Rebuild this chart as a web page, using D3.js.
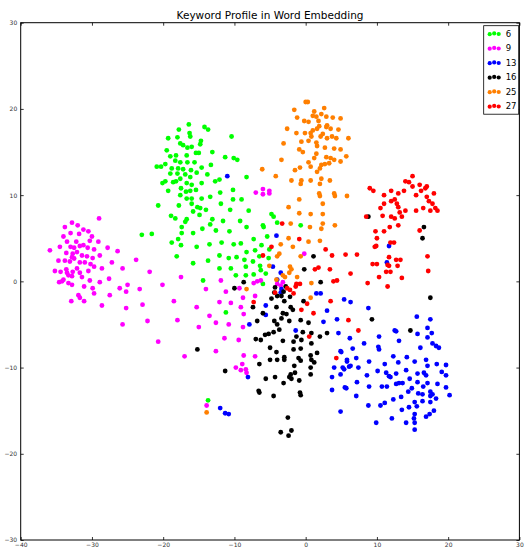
<!DOCTYPE html>
<html>
<head>
<meta charset="utf-8">
<script src="https://cdnjs.cloudflare.com/ajax/libs/d3/7.8.5/d3.min.js"></script>
<style>
  html, body { margin: 0; padding: 0; background: #fff; }
  svg { display: block; font-family: "DejaVu Sans", sans-serif; }
</style>
</head>
<body>
<div id="chart"></div>
<script>
// chart text + axis ranges
const TITLE = "Keyword Profile in Word Embedding";
const X_DOMAIN = [-40, 30];
const Y_DOMAIN = [-30, 30];
const X_TICKS = [-40, -30, -20, -10, 0, 10, 20, 30];
const Y_TICKS = [-30, -20, -10, 0, 10, 20, 30];

// cluster ids (legend labels) and colours, same order as drawn
const LABELS = ["6", "9", "13", "16", "25", "27"];
const COLORS = ["#00ff00", "#ff00ff", "#0000ff", "#000000", "#ff7f00", "#ff0000"];

// points, [x, y]
const pts6 = [
  [-13.7,17.6],[-16.4,18.2],[-14.2,17.9],[-17.8,17.6],
  [-19.3,16.6],[-18.0,16.7],[-16.3,17.2],[-16.2,16.8],[-10.4,16.8],[-14.7,16.3],[-14.8,15.9],[-17.6,16.0],
  [-17.2,15.8],[-16.6,15.5],[-16.0,15.6],[-19.5,15.2],[-15.4,14.9],[-15.0,14.9],[-13.1,15.0],[-19.0,14.5],
  [-18.2,14.6],[-16.7,14.6],[-11.3,14.4],[-10.1,14.3],[-9.6,14.1],[-18.3,14.0],[-17.6,13.8],[-16.6,13.8],
  [-15.6,13.8],[-14.6,13.2],[-13.3,13.5],[-20.9,13.3],[-20.3,13.3],[-19.7,13.6],[-18.8,13.1],[-17.9,13.1],
  [-17.2,13.0],[-16.1,12.9],[-19.0,12.5],[-18.0,12.5],[-16.9,12.4],[-15.3,12.6],[-13.8,12.4],[-8.3,12.1],
  [-17.6,11.9],[-16.2,12.1],[-12.1,11.8],[-12.7,11.6],[-20.1,11.4],[-19.7,11.6],[-18.6,11.5],[-18.2,11.6],
  [-16.7,11.4],[-16.0,11.2],[-14.6,11.4],[-17.5,10.8],[-16.8,10.4],[-16.2,10.5],[-15.4,10.6],[-19.3,10.5],
  [-12.0,10.3],[-10.2,10.6],[-17.6,10.0],[-16.7,9.6],[-16.0,9.6],[-14.6,9.6],[-13.4,9.8],[-10.2,9.5],
  [-9.0,9.5],[-20.7,8.8],[-17.8,8.8],[-16.0,9.0],[-11.9,9.0],[-15.2,8.6],[-14.8,8.5],[-14.0,8.3],
  [-15.8,8.1],[-10.6,8.3],[-8.0,8.2],[-18.9,7.6],[-18.3,7.3],[-14.9,7.7],[-16.7,7.2],[-16.9,6.9],
  [-13.1,7.2],[-11.6,7.0],[-9.2,7.0],[-17.4,6.3],[-13.4,6.6],[-23.0,5.4],[-21.6,5.5],[-14.5,6.1],
  [-12.6,5.9],[-10.7,5.8],[-17.4,5.6],[-15.8,5.6],[-17.9,4.9],[-18.8,4.5],[-17.5,4.2],[-15.3,4.0],
  [-13.5,4.3],[-11.8,4.5],[-10.1,4.3],[-9.1,4.4],[-18.1,2.9],[-15.8,2.1],[-13.7,2.4],[-12.1,3.0],
  [-10.8,2.7],[-9.7,2.8],[-8.6,2.5],[-12.1,1.5],[-10.5,1.5],[-9.8,0.7],[-8.4,1.7],[-14.4,0.1],
  [-8.4,0.7],[-11.2,-3.6],[-13.7,-13.8],
  [-4.8,7.8],[-4.5,7.5],[-8.3,6.3],[-6.0,6.5],[-5.9,6.3],[-4.0,6.8],[-0.7,6.5],[-5.4,5.2],
  [-7.3,4.9],[-6.2,4.2],[-7.1,3.6],[-8.3,3.4],[-5.1,3.7],[-6.5,2.9],[-5.2,2.7],
  [-7.4,2.3],[-6.4,1.8],[-7.3,0.8],[-6.3,1.3],[-6.0,-0.3],[-5.6,0.9]
];

const pts9 = [
  [-33.8,6.3],[-32.8,6.8],[-32.0,6.5],[-31.2,6.0],[-30.5,5.8],[-29.0,7.3],[-30.0,5.2],[-31.8,5.5],
  [-33.0,5.6],[-34.0,5.2],
  [-35.9,3.6],[-34.5,4.0],[-33.5,4.6],[-32.2,4.6],[-30.3,4.7],[-29.1,4.6],[-33.0,4.0],[-32.5,3.9],
  [-31.7,4.1],[-31.2,4.2],[-30.6,3.9],[-29.7,3.7],[-27.8,3.9],[-26.4,3.5],[-33.6,3.3],[-32.1,3.4],
  [-32.7,3.2],[-31.4,3.0],[-30.7,2.9],[-29.9,2.7],[-28.9,3.0],[-32.8,2.8],[-32.5,2.65],[-33.1,2.3],
  [-34.7,2.4],[-33.8,2.4],[-31.7,2.2],[-31.0,2.2],[-30.2,2.0],[-27.2,2.2],[-23.8,2.5],[-35.2,1.2],
  [-34.4,1.1],[-33.6,1.4],[-33.5,1.0],[-32.7,1.1],[-32.1,1.5],[-31.7,1.0],[-30.5,1.2],[-29.7,1.7],
  [-28.6,1.5],[-25.7,1.5],[-33.3,0.7],[-32.8,0.6],[-31.4,0.5],[-34.2,0.0],[-34.6,-0.1],[-34.0,0.2],
  [-33.3,-0.2],[-32.8,-0.4],[-30.3,0.1],[-28.9,-0.1],[-27.6,0.3],[-31.1,-0.6],[-29.9,-0.8],[-26.1,-0.8],
  [-25.0,-0.4],[-25.2,-1.2],[-23.3,-0.9],[-29.7,-1.4],[-31.9,-1.6],[-31.7,-1.9],[-27.5,-1.6],[-32.9,-2.3],
  [-31.1,-2.3],[-28.6,-2.8],[-25.2,-3.1],[-25.7,-5.0],
  [-21.9,1.1],[-17.5,0.5],[-20.1,-0.4],[-14.0,-0.9],[-11.9,0.1],[-9.3,-0.8],[-11.2,-1.2],[-22.9,-2.7],
  [-18.5,-2.3],[-15.3,-3.0],[-12.1,-2.4],[-10.5,-2.5],[-8.8,-1.9],[-9.1,-3.0],[-8.7,-3.8],[-22.2,-4.6],
  [-18.0,-4.5],[-13.5,-4.0],[-12.6,-4.8],[-10.8,-5.0],[-8.8,-5.3],[-15.0,-5.3],[-11.4,-6.6],[-9.4,-6.8],
  [-20.7,-7.0],[-12.6,-8.1],[-17.0,-8.7],[-8.7,-8.6],[-8.9,-9.6],[-9.8,-10.0],[-9.1,-10.3],[-8.4,-10.2],
  [-8.3,-10.6],[-13.9,-14.4],[-7.0,10.3],[-6.0,10.7],[-5.1,10.5],[-6.0,10.1],[-5.1,10.2],[-0.2,3.2],
  [-7.3,-0.2],[-6.8,0.0],[-6.3,0.1],[-4.0,-0.3],[-3.5,-0.5],[-3.2,-0.1],[-7.1,-8.7],[-7.1,-1.7]
];

const pts13 = [
  [-11.0,12.2],[-4.1,5.3],[-7.9,-5.0],[-8.1,-11.1],[-12.0,-14.7],[-11.3,-15.3],[-10.8,-15.4],
  [-4.6,1.7],[-3.5,1.0],[-4.0,0.2],[-3.4,-0.9],[-3.5,-1.3],[-5.6,-2.8],[-5.6,-3.9],[1.5,-1.4],
  [2.1,-1.4],[3.0,-3.4],[5.4,-2.1],[4.4,-4.4],[-1.4,-5.7],[2.5,-4.7],[4.6,-6.0],[4.9,-8.1],
  [5.8,-9.1],[5.2,-10.0],[6.1,-9.9],[4.0,-10.0],[4.9,-10.8],[3.7,-11.1],[3.7,-12.6],[5.7,-12.4],
  [4.9,-15.1],
  [11.7,4.1],[11.4,2.2],[6.3,-2.4],[8.8,-3.1],[15.6,-4.1],[17.5,-4.4],[12.5,-5.7],[12.7,-5.8],
  [17.1,-5.4],[17.7,-6.0],[15.7,-6.1],[6.2,-6.6],[10.3,-6.4],[17.1,-6.5],[13.1,-6.9],[8.2,-7.2],
  [17.8,-7.2],[18.3,-7.5],[18.7,-7.7],[10.2,-7.6],[10.3,-7.9],[6.6,-7.8],[16.1,-7.7],[5.0,-8.2],
  [12.3,-8.7],[14.2,-8.8],[7.1,-8.9],[8.9,-9.3],[5.8,-9.3],[11.1,-9.6],[13.0,-9.4],[15.3,-9.3],
  [16.9,-9.1],[5.4,-10.2],[6.3,-9.8],[7.4,-10.0],[17.1,-9.8],[18.4,-9.6],[19.7,-9.7],[10.1,-10.4],
  [11.3,-10.6],[11.7,-11.0],[11.9,-11.1],[14.1,-10.3],[15.7,-10.7],[16.6,-10.6],[16.9,-10.9],[19.1,-10.5],
  [19.7,-10.9],[8.6,-10.9],[12.7,-10.7],[7.2,-11.7],[14.6,-11.3],[12.7,-11.9],[13.1,-11.8],[13.6,-11.8],
  [15.7,-11.7],[17.1,-11.8],[18.5,-11.9],[5.5,-12.3],[8.9,-12.2],[10.7,-12.2],[11.4,-12.2],[14.9,-12.4],
  [16.5,-12.2],[19.7,-12.3],
  [7.1,-13.3],[14.4,-12.8],[15.8,-13.0],[16.4,-13.1],[17.5,-12.8],[17.8,-13.1],[17.5,-13.3],[20.2,-13.2],
  [18.3,-13.6],[16.4,-13.9],[17.5,-14.0],[12.3,-13.7],[13.4,-13.4],[15.3,-14.0],[11.1,-14.1],[10.5,-14.4],
  [8.8,-14.4],[14.5,-14.6],[15.6,-14.5],[13.5,-14.9],[18.0,-15.0],[17.4,-15.4],[16.9,-15.7],[15.3,-15.4],
  [15.2,-15.9],[15.3,-16.4],[12.1,-15.9],[14.1,-16.4],[9.9,-16.4],[15.3,-17.2]
];

const pts16 = [
  [-8.7,-0.1],[-10.0,-0.8],[-15.2,-7.9],[-11.3,-10.4],[1.1,2.9],
  [-4.3,-0.7],[-4.4,-1.3],[-2.8,-0.6],[-0.2,1.4],[2.1,-0.1],[-3.4,-1.7],[-4.0,-1.7],[-2.2,-1.8],
  [-3.0,-2.3],[-0.3,-2.3],[-7.4,-3.0],[-2.1,-3.0],[-1.8,-3.3],[-4.1,-3.0],[-6.0,-3.7],[-3.2,-3.7],
  [-3.4,-4.3],[-2.7,-3.8],[-6.8,-4.6],[-4.4,-4.6],[-2.3,-4.6],[-0.7,-4.5],[0.4,-4.8],[-4.0,-5.0],
  [-3.7,-5.6],[-5.2,-6.1],[-4.5,-5.9],[-5.7,-6.2],[-0.4,-5.9],[0.8,-6.0],[2.0,-6.4],[3.0,-6.0],
  [-7.0,-6.7],[-6.3,-6.8],[-3.2,-6.9],[-1.7,-7.0],[-0.6,-6.8],[0.8,-7.2],[-5.0,-7.7],[-1.7,-7.9],
  [-0.7,-7.8],[1.6,-8.3],[0.7,-8.6],[-4.1,-8.2],[-3.0,-8.8],[-3.0,-9.1],[-5.0,-9.1],[-4.0,-9.1],
  [-1.0,-8.9],[-0.7,-9.2],[0.8,-9.1],[1.2,-9.4],[-6.5,-9.6],[-1.6,-9.8],[0.7,-10.0],[-2.1,-10.8],
  [-2.3,-11.1],[-1.5,-10.6],[-5.6,-11.3],[-4.3,-11.1],[0.7,-10.8],[-0.9,-11.5],[-3.1,-11.8],[-6.6,-12.7],
  [-6.5,-12.9],[-4.5,-13.3],[-0.8,-12.9],[-0.7,-13.2],[-2.0,-11.3],[-1.3,-6.4],[-3.1,-1.2],[-4.8,-2.0],
  [-2.5,-15.8],[-3.5,-17.5],[-2.0,-17.3],[-2.4,-17.9],
  [17.5,-1.9],[9.3,-4.4],[14.7,-5.7],[16.4,5.0],[8.8,7.5],[16.6,6.3]
];

const pts25 = [
  [0.0,20.8],[0.3,20.8],[-1.6,19.9],[2.6,20.1],
  [1.2,19.7],[1.0,19.2],[-1.2,19.0],[1.5,19.1],[2.2,19.4],[2.9,19.1],[3.8,19.0],[4.9,18.9],
  [-0.2,18.6],[0.4,18.5],[1.8,18.6],[1.9,18.0],[3.0,18.1],[2.9,17.9],[3.5,17.7],[-2.6,17.7],
  [1.0,17.5],[1.6,17.7],[4.6,17.6],[-1.3,17.2],[-0.1,17.2],[0.7,17.2],[0.8,16.8],[2.4,17.1],
  [2.1,16.8],[3.0,16.6],[4.3,16.6],[6.0,16.6],[3.7,16.8],[-0.6,16.2],[0.4,16.3],[1.5,16.1],
  [-3.1,16.0],[1.6,15.7],[2.7,15.5],[4.0,15.4],[4.9,15.3],[-0.9,15.3],[-0.4,15.0],[1.5,14.8],
  [2.9,14.4],[3.5,14.3],[4.0,14.1],[4.9,13.9],[5.7,14.5],[-3.4,14.1],[1.2,14.3],[0.4,13.8],
  [2.2,13.5],[3.3,13.7],[2.7,13.6],[-0.8,13.2],[2.0,13.1],[-1.5,12.9],[1.6,12.7],[0.7,13.3],
  [-6.1,13.0],[-4.2,12.2],[-2.0,11.7],[-0.6,11.7],[0.7,11.7],[2.2,11.9],[3.4,11.7],[-0.7,11.3],
  [2.0,11.3],[1.9,10.2],[2.0,9.9],[4.0,10.2],[4.1,9.9],[5.8,9.9],[-0.9,9.5],[2.4,9.0],
  [-2.4,8.6],[-0.9,7.9],[0.7,7.8],[2.4,7.8],[-2.1,6.7],[0.6,6.3],[2.4,6.7],[2.2,6.1],
  [4.1,6.5],[-2.4,5.0],[-3.5,4.3],[0.4,4.6],[2.0,4.7],[-1.8,4.0],[-0.7,2.9],[-4.0,2.9],
  [-3.7,3.2],
  [-5.1,1.8],[-2.2,1.7],[-2.0,1.4],[-3.2,0.7],[-2.9,0.5],[-1.2,0.5],[-4.1,0.2],[0.8,-0.2],
  [-2.3,1.0],[0.7,-1.9],[-8.3,-0.9],[-13.9,-15.2]
];

const pts27 = [
  [-3.3,6.7],[-0.9,4.9],[-4.8,4.0],[-6.0,3.0],[2.8,3.7],[3.7,3.0],[5.6,3.1],
  [1.3,1.4],[1.8,1.6],[3.4,1.4],[-1.3,-0.3],[-0.8,-0.3],[-1.4,-0.6],[-2.6,-0.8],[-2.2,-1.0],
  [-4.3,-1.3],[-1.7,-1.4],[-7.3,-2.4],[0.2,-2.6],[-0.6,-3.3],[1.1,-3.7],[3.5,-2.3],[3.9,0.0],
  [4.4,0.1],[0.5,-6.4],[4.3,-8.9],[6.3,0.9],
  [9.7,4.0],[9.9,4.1],[11.9,4.5],[12.4,4.5],[7.2,3.1],[11.7,2.8],[12.7,2.5],[13.3,2.5],
  [17.1,2.9],[9.4,2.0],[10.0,2.0],[11.5,1.9],[11.7,1.8],[12.9,1.8],[11.3,1.1],[11.9,1.1],
  [17.2,1.2],[10.3,0.5],[13.5,0.4],[8.7,-0.2],[11.5,-0.6],[6.0,-4.5],[7.4,-5.7],
  [9.0,10.8],[9.5,10.5],[10.5,8.5],[11.0,9.0],[11.0,10.0],[12.0,10.5],[12.5,9.5],[12.8,9.0],
  [13.0,10.2],[13.2,8.0],[13.5,7.5],[13.8,10.5],[14.0,11.6],[14.5,11.5],[15.0,12.2],[15.0,11.0],
  [15.5,10.0],[16.0,11.2],[16.2,10.5],[16.8,10.8],[17.0,11.0],[17.0,9.8],[17.3,9.3],[17.8,9.0],
  [17.5,8.2],[18.0,10.2],[18.2,8.5],[16.5,8.5],[15.5,8.2],[12.0,7.5],[11.8,6.3],[13.0,6.5],
  [12.5,7.3],[14.0,8.2],[16.0,5.9],[18.5,8.2],[8.5,7.5],[10.0,5.0],[11.0,5.8],[13.0,8.6],
  [12.0,9.3],[10.8,7.6],[9.8,5.8]
];

const SERIES = [pts6, pts9, pts13, pts16, pts25, pts27];

// layout
const W = 526, H = 548;
const MARGIN = { top: 22.7, right: 6.6, bottom: 8, left: 20.7 };
const PW = W - MARGIN.left - MARGIN.right;
const PH = H - MARGIN.top - MARGIN.bottom;

const svg = d3.select("#chart").append("svg")
  .attr("width", W)
  .attr("height", H);

const x = d3.scaleLinear().domain(X_DOMAIN).range([0, PW]);
const y = d3.scaleLinear().domain(Y_DOMAIN).range([PH, 0]);

// title
svg.append("text")
  .attr("x", MARGIN.left + PW / 2)
  .attr("y", 19)
  .attr("text-anchor", "middle")
  .attr("font-size", "10.5px")
  .attr("fill", "#000")
  .text(TITLE);

const g = svg.append("g")
  .attr("transform", `translate(${MARGIN.left},${MARGIN.top})`);

// points
SERIES.forEach((pts, i) => {
  g.append("g")
    .selectAll("circle")
    .data(pts)
    .enter()
    .append("circle")
    .attr("cx", d => x(d[0]))
    .attr("cy", d => y(d[1]))
    .attr("r", 2.4)
    .attr("fill", COLORS[i]);
});

// axes, ticks pointing inward on all four sides
const fmt = d3.format("d");
function styleAxis(sel) {
  sel.select(".domain").remove();
  sel.selectAll("line").attr("stroke", "#000").attr("stroke-width", 0.8);
  sel.selectAll("text").attr("font-size", "6px").attr("fill", "#333")
    .attr("font-family", "DejaVu Sans, sans-serif");
}

g.append("g")
  .attr("transform", `translate(0,${PH})`)
  .call(d3.axisBottom(x).tickValues(X_TICKS).tickFormat(fmt).tickSizeInner(-3).tickSizeOuter(0).tickPadding(2.5))
  .call(styleAxis);

g.append("g")
  .call(d3.axisTop(x).tickValues(X_TICKS).tickFormat("").tickSizeInner(-3).tickSizeOuter(0))
  .call(styleAxis);

g.append("g")
  .call(d3.axisLeft(y).tickValues(Y_TICKS).tickFormat(fmt).tickSizeInner(-3).tickSizeOuter(0).tickPadding(3.5))
  .call(styleAxis);

g.append("g")
  .attr("transform", `translate(${PW},0)`)
  .call(d3.axisRight(y).tickValues(Y_TICKS).tickFormat("").tickSizeInner(-3).tickSizeOuter(0))
  .call(styleAxis);

// frame
g.append("rect")
  .attr("width", PW)
  .attr("height", PH)
  .attr("fill", "none")
  .attr("stroke", "#000")
  .attr("stroke-width", 1);

// legend (three marker dots per entry, like matplotlib's scatterpoints)
const LEG = { x: 463, y: 3, w: 35, rowH: 14.5, pad: 8 };
const legend = g.append("g").attr("transform", `translate(${LEG.x},${LEG.y})`);
legend.append("rect")
  .attr("width", LEG.w)
  .attr("height", (LABELS.length - 1) * LEG.rowH + 2 * LEG.pad)
  .attr("fill", "#fff")
  .attr("stroke", "#000")
  .attr("stroke-width", 0.8);

const dotOffsets = [[6, 0.5], [10.5, -0.3], [15, 0.3]];
LABELS.forEach((lab, i) => {
  const row = legend.append("g")
    .attr("transform", `translate(0,${LEG.pad + i * LEG.rowH})`);
  row.selectAll("circle")
    .data(dotOffsets)
    .enter()
    .append("circle")
    .attr("cx", d => d[0])
    .attr("cy", d => d[1])
    .attr("r", 2.1)
    .attr("fill", COLORS[i]);
  row.append("text")
    .attr("x", 22)
    .attr("y", 0)
    .attr("dy", "0.35em")
    .attr("font-size", "8.5px")
    .attr("fill", "#000")
    .text(lab);
});
</script>
</body>
</html>
